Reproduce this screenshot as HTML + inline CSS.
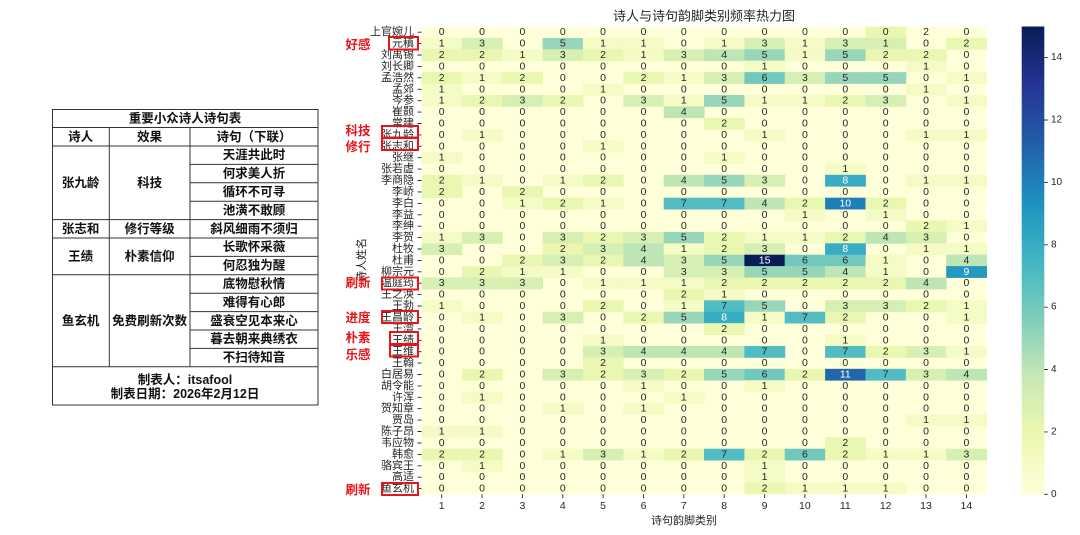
<!DOCTYPE html>
<html><head><meta charset="utf-8"><style>
html,body{margin:0;padding:0;background:#fff;width:1080px;height:535px;overflow:hidden}
svg{display:block}
.hm rect{width:40.8px;height:11.8px}
.a1{fill:#f5fbc4}.a2{fill:#eaf7b1}.a3{fill:#d6efb3}.a4{fill:#bde5b5}.a5{fill:#97d6b9}.a6{fill:#73c8bd}.a7{fill:#52bcc2}.a8{fill:#37acc3}.a9{fill:#2498c1}.a10{fill:#1f80b8}.a11{fill:#2165ab}.a15{fill:#081d58}
.hm text{font-family:"Liberation Sans Narrow","Liberation Sans",sans-serif;font-size:10.5px;fill:#262626;text-anchor:middle;dominant-baseline:central}
.hm text.w{fill:#fff}
.yl text{font-family:"Liberation Sans","Noto Sans CJK SC",sans-serif;font-size:11px;fill:#262626;text-anchor:end;dominant-baseline:central}
.xl text{font-family:"Liberation Sans",sans-serif;font-size:10.5px;fill:#262626;text-anchor:middle}
.cb text{font-family:"Liberation Sans",sans-serif;font-size:10px;fill:#262626;dominant-baseline:central}
.lab{font-family:"Liberation Sans","Noto Sans CJK SC",sans-serif;font-size:11px;fill:#262626;text-anchor:middle;dominant-baseline:central}
.red text{font-family:"Liberation Sans","Noto Sans CJK SC",sans-serif;font-size:12.5px;font-weight:700;fill:#e8141b;text-anchor:middle;dominant-baseline:central}
.red rect{fill:none;stroke:#e8141b;stroke-width:2}
.tb text{font-family:"Liberation Sans","Noto Sans CJK SC",sans-serif;font-size:12.5px;font-weight:700;fill:#111;text-anchor:middle;dominant-baseline:central}
.tb line,.tb rect{stroke:#333;stroke-width:1;fill:none}
</style></head><body>
<svg width="1080" height="535" viewBox="0 0 1080 535" xmlns="http://www.w3.org/2000/svg">
<defs>
<linearGradient id="cg" x1="0" y1="1" x2="0" y2="0">
<stop offset="0" stop-color="#ffffd9"/><stop offset="0.125" stop-color="#edf8b1"/><stop offset="0.25" stop-color="#c7e9b4"/><stop offset="0.375" stop-color="#7fcdbb"/><stop offset="0.5" stop-color="#41b6c4"/><stop offset="0.625" stop-color="#1d91c0"/><stop offset="0.75" stop-color="#225ea8"/><stop offset="0.875" stop-color="#253494"/><stop offset="1" stop-color="#081d58"/>
</linearGradient>
</defs>

<!-- table -->
<g class="tb">
<rect x="52.5" y="109.5" width="265.5" height="295.5"/>
<line x1="52.5" y1="127.5" x2="318" y2="127.5"/>
<line x1="52.5" y1="146" x2="318" y2="146"/>
<line x1="52.5" y1="219.6" x2="318" y2="219.6"/>
<line x1="52.5" y1="238" x2="318" y2="238"/>
<line x1="52.5" y1="274.8" x2="318" y2="274.8"/>
<line x1="52.5" y1="366.8" x2="318" y2="366.8"/>
<line x1="190" y1="164.4" x2="318" y2="164.4"/>
<line x1="190" y1="182.8" x2="318" y2="182.8"/>
<line x1="190" y1="201.2" x2="318" y2="201.2"/>
<line x1="190" y1="256.4" x2="318" y2="256.4"/>
<line x1="190" y1="293.2" x2="318" y2="293.2"/>
<line x1="190" y1="311.6" x2="318" y2="311.6"/>
<line x1="190" y1="330" x2="318" y2="330"/>
<line x1="190" y1="348.4" x2="318" y2="348.4"/>
<line x1="109.3" y1="127.5" x2="109.3" y2="366.8"/>
<line x1="190" y1="127.5" x2="190" y2="366.8"/>
<text x="185" y="118.5">重要小众诗人诗句表</text>
<text x="80.6" y="137">诗人</text><text x="149.6" y="137">效果</text><text x="254" y="137">诗句（下联）</text>
<text x="80.6" y="183">张九龄</text><text x="149.6" y="183">科技</text>
<text x="254" y="155.2">天涯共此时</text><text x="254" y="173.6">何求美人折</text><text x="254" y="192">循环不可寻</text><text x="254" y="210.4">池潢不敢顾</text>
<text x="80.6" y="228.8">张志和</text><text x="149.6" y="228.8">修行等级</text><text x="254" y="228.8">斜风细雨不须归</text>
<text x="80.6" y="256.4">王绩</text><text x="149.6" y="256.4">朴素信仰</text><text x="254" y="247.2">长歌怀采薇</text><text x="254" y="265.6">何忍独为醒</text>
<text x="80.6" y="320.8">鱼玄机</text><text x="149.6" y="320.8">免费刷新次数</text>
<text x="254" y="284">底物慰秋情</text><text x="254" y="302.4">难得有心郎</text><text x="254" y="320.8">盛衰空见本来心</text><text x="254" y="339.2">暮去朝来典绣衣</text><text x="254" y="357.6">不扫待知音</text>
<text x="185" y="380">制表人：itsafool</text>
<text x="185" y="394">制表日期：2026年2月12日</text>
</g>

<!-- title -->
<text x="704" y="16" class="lab" style="font-size:13px">诗人与诗句韵脚类别频率热力图</text>

<!-- heatmap background -->
<rect x="421.5" y="26.5" width="565.1" height="467.8" fill="#ffffd9"/>

<g class="hm">
<g transform="translate(0,26.5)"><rect x="865.5" class="a2"/><text y="5.7" x="441.7 482.0 522.4 562.8 603.1 643.5 683.8 724.2 764.6 804.9 845.3 885.7 926.0 966.4">00000000000020</text></g>
<g transform="translate(0,37.9)"><rect x="421.5" class="a1"/><rect x="461.9" class="a3"/><rect x="542.6" class="a5"/><rect x="582.9" class="a1"/><rect x="623.3" class="a1"/><rect x="704.0" class="a1"/><rect x="744.4" class="a3"/><rect x="784.7" class="a1"/><rect x="825.1" class="a3"/><rect x="865.5" class="a3"/><rect x="946.2" class="a2"/><text y="5.7" x="441.7 482.0 522.4 562.8 603.1 643.5 683.8 724.2 764.6 804.9 845.3 885.7 926.0 966.4">13051101313102</text></g>
<g transform="translate(0,49.3)"><rect x="421.5" class="a2"/><rect x="461.9" class="a2"/><rect x="502.2" class="a1"/><rect x="542.6" class="a3"/><rect x="582.9" class="a2"/><rect x="623.3" class="a1"/><rect x="663.7" class="a3"/><rect x="704.0" class="a4"/><rect x="744.4" class="a5"/><rect x="784.7" class="a1"/><rect x="825.1" class="a5"/><rect x="865.5" class="a2"/><rect x="905.8" class="a2"/><text y="5.7" x="441.7 482.0 522.4 562.8 603.1 643.5 683.8 724.2 764.6 804.9 845.3 885.7 926.0 966.4">22132134515220</text></g>
<g transform="translate(0,60.7)"><rect x="744.4" class="a1"/><rect x="905.8" class="a1"/><text y="5.7" x="441.7 482.0 522.4 562.8 603.1 643.5 683.8 724.2 764.6 804.9 845.3 885.7 926.0 966.4">00000000100010</text></g>
<g transform="translate(0,72.1)"><rect x="421.5" class="a2"/><rect x="461.9" class="a1"/><rect x="502.2" class="a2"/><rect x="623.3" class="a2"/><rect x="663.7" class="a1"/><rect x="704.0" class="a3"/><rect x="744.4" class="a6"/><rect x="784.7" class="a3"/><rect x="825.1" class="a5"/><rect x="865.5" class="a5"/><rect x="946.2" class="a1"/><text y="5.7" x="441.7 482.0 522.4 562.8 603.1 643.5 683.8 724.2 764.6 804.9 845.3 885.7 926.0 966.4">21200213635501</text></g>
<g transform="translate(0,83.6)"><rect x="421.5" class="a1"/><rect x="582.9" class="a1"/><rect x="905.8" class="a1"/><text y="5.7" x="441.7 482.0 522.4 562.8 603.1 643.5 683.8 724.2 764.6 804.9 845.3 885.7 926.0 966.4">10001000000010</text></g>
<g transform="translate(0,95.0)"><rect x="421.5" class="a1"/><rect x="461.9" class="a2"/><rect x="502.2" class="a3"/><rect x="542.6" class="a2"/><rect x="623.3" class="a3"/><rect x="663.7" class="a1"/><rect x="704.0" class="a5"/><rect x="744.4" class="a1"/><rect x="784.7" class="a1"/><rect x="825.1" class="a2"/><rect x="865.5" class="a3"/><rect x="946.2" class="a1"/><text y="5.7" x="441.7 482.0 522.4 562.8 603.1 643.5 683.8 724.2 764.6 804.9 845.3 885.7 926.0 966.4">12320315112301</text></g>
<g transform="translate(0,106.4)"><rect x="663.7" class="a4"/><text y="5.7" x="441.7 482.0 522.4 562.8 603.1 643.5 683.8 724.2 764.6 804.9 845.3 885.7 926.0 966.4">00000040000000</text></g>
<g transform="translate(0,117.8)"><rect x="704.0" class="a2"/><text y="5.7" x="441.7 482.0 522.4 562.8 603.1 643.5 683.8 724.2 764.6 804.9 845.3 885.7 926.0 966.4">00000002000000</text></g>
<g transform="translate(0,129.2)"><rect x="461.9" class="a1"/><rect x="744.4" class="a1"/><rect x="905.8" class="a1"/><rect x="946.2" class="a1"/><text y="5.7" x="441.7 482.0 522.4 562.8 603.1 643.5 683.8 724.2 764.6 804.9 845.3 885.7 926.0 966.4">01000000100011</text></g>
<g transform="translate(0,140.6)"><rect x="582.9" class="a1"/><text y="5.7" x="441.7 482.0 522.4 562.8 603.1 643.5 683.8 724.2 764.6 804.9 845.3 885.7 926.0 966.4">00001000000000</text></g>
<g transform="translate(0,152.0)"><rect x="421.5" class="a1"/><rect x="704.0" class="a1"/><text y="5.7" x="441.7 482.0 522.4 562.8 603.1 643.5 683.8 724.2 764.6 804.9 845.3 885.7 926.0 966.4">10000001000000</text></g>
<g transform="translate(0,163.4)"><rect x="825.1" class="a1"/><text y="5.7" x="441.7 482.0 522.4 562.8 603.1 643.5 683.8 724.2 764.6 804.9 845.3 885.7 926.0 966.4">00000000001000</text></g>
<g transform="translate(0,174.8)"><rect x="421.5" class="a2"/><rect x="461.9" class="a1"/><rect x="542.6" class="a1"/><rect x="582.9" class="a2"/><rect x="663.7" class="a4"/><rect x="704.0" class="a5"/><rect x="744.4" class="a3"/><rect x="825.1" class="a8"/><rect x="905.8" class="a1"/><rect x="946.2" class="a1"/><text y="5.7" x="441.7 482.0 522.4 562.8 603.1 643.5 683.8 724.2 764.6 804.9 885.7 926.0 966.4">2101204530011</text><text class="w" y="5.7" x="845.3">8</text></g>
<g transform="translate(0,186.2)"><rect x="421.5" class="a2"/><rect x="502.2" class="a2"/><text y="5.7" x="441.7 482.0 522.4 562.8 603.1 643.5 683.8 724.2 764.6 804.9 845.3 885.7 926.0 966.4">20200000000000</text></g>
<g transform="translate(0,197.7)"><rect x="502.2" class="a1"/><rect x="542.6" class="a2"/><rect x="582.9" class="a1"/><rect x="663.7" class="a7"/><rect x="704.0" class="a7"/><rect x="744.4" class="a4"/><rect x="784.7" class="a2"/><rect x="825.1" class="a10"/><rect x="865.5" class="a2"/><text y="5.7" x="441.7 482.0 522.4 562.8 603.1 643.5 683.8 724.2 764.6 804.9 885.7 926.0 966.4">0012107742200</text><text class="w" y="5.7" x="845.3">10</text></g>
<g transform="translate(0,209.1)"><rect x="784.7" class="a1"/><rect x="865.5" class="a1"/><text y="5.7" x="441.7 482.0 522.4 562.8 603.1 643.5 683.8 724.2 764.6 804.9 845.3 885.7 926.0 966.4">00000000010100</text></g>
<g transform="translate(0,220.5)"><rect x="905.8" class="a2"/><rect x="946.2" class="a1"/><text y="5.7" x="441.7 482.0 522.4 562.8 603.1 643.5 683.8 724.2 764.6 804.9 845.3 885.7 926.0 966.4">00000000000021</text></g>
<g transform="translate(0,231.9)"><rect x="421.5" class="a1"/><rect x="461.9" class="a3"/><rect x="542.6" class="a3"/><rect x="582.9" class="a2"/><rect x="623.3" class="a3"/><rect x="663.7" class="a5"/><rect x="704.0" class="a2"/><rect x="744.4" class="a1"/><rect x="784.7" class="a1"/><rect x="825.1" class="a2"/><rect x="865.5" class="a4"/><rect x="905.8" class="a3"/><text y="5.7" x="441.7 482.0 522.4 562.8 603.1 643.5 683.8 724.2 764.6 804.9 845.3 885.7 926.0 966.4">13032352112430</text></g>
<g transform="translate(0,243.3)"><rect x="421.5" class="a3"/><rect x="542.6" class="a2"/><rect x="582.9" class="a3"/><rect x="623.3" class="a4"/><rect x="663.7" class="a1"/><rect x="704.0" class="a2"/><rect x="744.4" class="a3"/><rect x="825.1" class="a8"/><rect x="905.8" class="a1"/><rect x="946.2" class="a1"/><text y="5.7" x="441.7 482.0 522.4 562.8 603.1 643.5 683.8 724.2 764.6 804.9 885.7 926.0 966.4">3002341230011</text><text class="w" y="5.7" x="845.3">8</text></g>
<g transform="translate(0,254.7)"><rect x="502.2" class="a2"/><rect x="542.6" class="a3"/><rect x="582.9" class="a2"/><rect x="623.3" class="a4"/><rect x="663.7" class="a3"/><rect x="704.0" class="a5"/><rect x="744.4" class="a15"/><rect x="784.7" class="a6"/><rect x="825.1" class="a6"/><rect x="865.5" class="a1"/><rect x="946.2" class="a4"/><text y="5.7" x="441.7 482.0 522.4 562.8 603.1 643.5 683.8 724.2 804.9 845.3 885.7 926.0 966.4">0023243566104</text><text class="w" y="5.7" x="764.6">15</text></g>
<g transform="translate(0,266.1)"><rect x="461.9" class="a2"/><rect x="502.2" class="a1"/><rect x="542.6" class="a1"/><rect x="663.7" class="a3"/><rect x="704.0" class="a3"/><rect x="744.4" class="a5"/><rect x="784.7" class="a5"/><rect x="825.1" class="a4"/><rect x="865.5" class="a1"/><rect x="946.2" class="a9"/><text y="5.7" x="441.7 482.0 522.4 562.8 603.1 643.5 683.8 724.2 764.6 804.9 845.3 885.7 926.0">0211003355410</text><text class="w" y="5.7" x="966.4">9</text></g>
<g transform="translate(0,277.5)"><rect x="421.5" class="a3"/><rect x="461.9" class="a3"/><rect x="502.2" class="a3"/><rect x="582.9" class="a1"/><rect x="623.3" class="a1"/><rect x="663.7" class="a1"/><rect x="704.0" class="a2"/><rect x="744.4" class="a2"/><rect x="784.7" class="a2"/><rect x="825.1" class="a2"/><rect x="865.5" class="a2"/><rect x="905.8" class="a4"/><text y="5.7" x="441.7 482.0 522.4 562.8 603.1 643.5 683.8 724.2 764.6 804.9 845.3 885.7 926.0 966.4">33301112222240</text></g>
<g transform="translate(0,288.9)"><rect x="663.7" class="a2"/><rect x="704.0" class="a1"/><text y="5.7" x="441.7 482.0 522.4 562.8 603.1 643.5 683.8 724.2 764.6 804.9 845.3 885.7 926.0 966.4">00000021000000</text></g>
<g transform="translate(0,300.3)"><rect x="421.5" class="a1"/><rect x="582.9" class="a2"/><rect x="663.7" class="a1"/><rect x="704.0" class="a7"/><rect x="744.4" class="a5"/><rect x="825.1" class="a3"/><rect x="865.5" class="a3"/><rect x="905.8" class="a2"/><rect x="946.2" class="a1"/><text y="5.7" x="441.7 482.0 522.4 562.8 603.1 643.5 683.8 724.2 764.6 804.9 845.3 885.7 926.0 966.4">10002017503321</text></g>
<g transform="translate(0,311.7)"><rect x="461.9" class="a1"/><rect x="542.6" class="a3"/><rect x="623.3" class="a2"/><rect x="663.7" class="a5"/><rect x="704.0" class="a8"/><rect x="744.4" class="a1"/><rect x="784.7" class="a7"/><rect x="825.1" class="a2"/><rect x="946.2" class="a1"/><text y="5.7" x="441.7 482.0 522.4 562.8 603.1 643.5 683.8 764.6 804.9 845.3 885.7 926.0 966.4">0103025172001</text><text class="w" y="5.7" x="724.2">8</text></g>
<g transform="translate(0,323.2)"><rect x="704.0" class="a2"/><text y="5.7" x="441.7 482.0 522.4 562.8 603.1 643.5 683.8 724.2 764.6 804.9 845.3 885.7 926.0 966.4">00000002000000</text></g>
<g transform="translate(0,334.6)"><rect x="582.9" class="a1"/><rect x="825.1" class="a1"/><text y="5.7" x="441.7 482.0 522.4 562.8 603.1 643.5 683.8 724.2 764.6 804.9 845.3 885.7 926.0 966.4">00001000001000</text></g>
<g transform="translate(0,346.0)"><rect x="582.9" class="a3"/><rect x="623.3" class="a4"/><rect x="663.7" class="a4"/><rect x="704.0" class="a4"/><rect x="744.4" class="a7"/><rect x="825.1" class="a7"/><rect x="865.5" class="a2"/><rect x="905.8" class="a3"/><rect x="946.2" class="a1"/><text y="5.7" x="441.7 482.0 522.4 562.8 603.1 643.5 683.8 724.2 764.6 804.9 845.3 885.7 926.0 966.4">00003444707231</text></g>
<g transform="translate(0,357.4)"><rect x="582.9" class="a2"/><text y="5.7" x="441.7 482.0 522.4 562.8 603.1 643.5 683.8 724.2 764.6 804.9 845.3 885.7 926.0 966.4">00002000000000</text></g>
<g transform="translate(0,368.8)"><rect x="461.9" class="a2"/><rect x="542.6" class="a3"/><rect x="582.9" class="a2"/><rect x="623.3" class="a3"/><rect x="663.7" class="a2"/><rect x="704.0" class="a5"/><rect x="744.4" class="a6"/><rect x="784.7" class="a2"/><rect x="825.1" class="a11"/><rect x="865.5" class="a7"/><rect x="905.8" class="a3"/><rect x="946.2" class="a4"/><text y="5.7" x="441.7 482.0 522.4 562.8 603.1 643.5 683.8 724.2 764.6 804.9 885.7 926.0 966.4">0203232562734</text><text class="w" y="5.7" x="845.3">11</text></g>
<g transform="translate(0,380.2)"><rect x="623.3" class="a1"/><rect x="744.4" class="a1"/><text y="5.7" x="441.7 482.0 522.4 562.8 603.1 643.5 683.8 724.2 764.6 804.9 845.3 885.7 926.0 966.4">00000100100000</text></g>
<g transform="translate(0,391.6)"><rect x="461.9" class="a1"/><rect x="663.7" class="a1"/><text y="5.7" x="441.7 482.0 522.4 562.8 603.1 643.5 683.8 724.2 764.6 804.9 845.3 885.7 926.0 966.4">01000010000000</text></g>
<g transform="translate(0,403.0)"><rect x="542.6" class="a1"/><rect x="623.3" class="a1"/><text y="5.7" x="441.7 482.0 522.4 562.8 603.1 643.5 683.8 724.2 764.6 804.9 845.3 885.7 926.0 966.4">00010100000000</text></g>
<g transform="translate(0,414.4)"><rect x="905.8" class="a1"/><rect x="946.2" class="a1"/><text y="5.7" x="441.7 482.0 522.4 562.8 603.1 643.5 683.8 724.2 764.6 804.9 845.3 885.7 926.0 966.4">00000000000011</text></g>
<g transform="translate(0,425.8)"><rect x="421.5" class="a1"/><rect x="461.9" class="a1"/><text y="5.7" x="441.7 482.0 522.4 562.8 603.1 643.5 683.8 724.2 764.6 804.9 845.3 885.7 926.0 966.4">11000000000000</text></g>
<g transform="translate(0,437.3)"><rect x="825.1" class="a2"/><text y="5.7" x="441.7 482.0 522.4 562.8 603.1 643.5 683.8 724.2 764.6 804.9 845.3 885.7 926.0 966.4">00000000002000</text></g>
<g transform="translate(0,448.7)"><rect x="421.5" class="a2"/><rect x="461.9" class="a2"/><rect x="542.6" class="a1"/><rect x="582.9" class="a3"/><rect x="623.3" class="a1"/><rect x="663.7" class="a2"/><rect x="704.0" class="a7"/><rect x="744.4" class="a2"/><rect x="784.7" class="a6"/><rect x="825.1" class="a2"/><rect x="865.5" class="a1"/><rect x="905.8" class="a1"/><rect x="946.2" class="a3"/><text y="5.7" x="441.7 482.0 522.4 562.8 603.1 643.5 683.8 724.2 764.6 804.9 845.3 885.7 926.0 966.4">22013127262113</text></g>
<g transform="translate(0,460.1)"><rect x="461.9" class="a1"/><rect x="744.4" class="a1"/><text y="5.7" x="441.7 482.0 522.4 562.8 603.1 643.5 683.8 724.2 764.6 804.9 845.3 885.7 926.0 966.4">01000000100000</text></g>
<g transform="translate(0,471.5)"><rect x="744.4" class="a1"/><text y="5.7" x="441.7 482.0 522.4 562.8 603.1 643.5 683.8 724.2 764.6 804.9 845.3 885.7 926.0 966.4">00000000100000</text></g>
<g transform="translate(0,482.9)"><rect x="744.4" class="a2" style="height:11.4px"/><rect x="784.7" class="a1" style="height:11.4px"/><rect x="825.1" class="a1" style="height:11.4px"/><rect x="865.5" class="a1" style="height:11.4px"/><text y="5.7" x="441.7 482.0 522.4 562.8 603.1 643.5 683.8 724.2 764.6 804.9 845.3 885.7 926.0 966.4">00000000211100</text></g>
</g>

<!-- y tick marks & labels -->
<path d="M417.5 32.2h4M417.5 43.6h4M417.5 55h4M417.5 66.4h4M417.5 77.8h4M417.5 89.3h4M417.5 100.7h4M417.5 112.1h4M417.5 123.5h4M417.5 134.9h4M417.5 146.3h4M417.5 157.7h4M417.5 169.1h4M417.5 180.5h4M417.5 191.9h4M417.5 203.4h4M417.5 214.8h4M417.5 226.2h4M417.5 237.6h4M417.5 249h4M417.5 260.4h4M417.5 271.8h4M417.5 283.2h4M417.5 294.6h4M417.5 306h4M417.5 317.4h4M417.5 328.9h4M417.5 340.3h4M417.5 351.7h4M417.5 363.1h4M417.5 374.5h4M417.5 385.9h4M417.5 397.3h4M417.5 408.7h4M417.5 420.1h4M417.5 431.5h4M417.5 443h4M417.5 454.4h4M417.5 465.8h4M417.5 477.2h4M417.5 488.6h4" stroke="#262626" stroke-width="0.9"/>
<g class="yl">
<text x="414" y="32.2">上官婉儿</text><text x="414" y="43.6">元稹</text><text x="414" y="55">刘禹锡</text><text x="414" y="66.4">刘长卿</text><text x="414" y="77.8">孟浩然</text><text x="414" y="89.3">孟郊</text><text x="414" y="100.7">岑参</text><text x="414" y="112.1">崔颢</text><text x="414" y="123.5">常建</text><text x="414" y="134.9">张九龄</text><text x="414" y="146.3">张志和</text><text x="414" y="157.7">张继</text><text x="414" y="169.1">张若虚</text><text x="414" y="180.5">李商隐</text><text x="414" y="191.9">李峤</text><text x="414" y="203.4">李白</text><text x="414" y="214.8">李益</text><text x="414" y="226.2">李绅</text><text x="414" y="237.6">李贺</text><text x="414" y="249">杜牧</text><text x="414" y="260.4">杜甫</text><text x="414" y="271.8">柳宗元</text><text x="414" y="283.2">温庭筠</text><text x="414" y="294.6">王之涣</text><text x="414" y="306">王勃</text><text x="414" y="317.4">王昌龄</text><text x="414" y="328.9">王湾</text><text x="414" y="340.3">王绩</text><text x="414" y="351.7">王维</text><text x="414" y="363.1">王翰</text><text x="414" y="374.5">白居易</text><text x="414" y="385.9">胡令能</text><text x="414" y="397.3">许浑</text><text x="414" y="408.7">贺知章</text><text x="414" y="420.1">贾岛</text><text x="414" y="431.5">陈子昂</text><text x="414" y="443">韦应物</text><text x="414" y="454.4">韩愈</text><text x="414" y="465.8">骆宾王</text><text x="414" y="477.2">高适</text><text x="414" y="488.6">鱼玄机</text>
</g>
<text class="lab" transform="translate(362,260) rotate(-90)" x="0" y="0">诗人姓名</text>

<!-- x ticks -->
<path d="M441.7 494.3v3.8M482 494.3v3.8M522.4 494.3v3.8M562.8 494.3v3.8M603.1 494.3v3.8M643.5 494.3v3.8M683.8 494.3v3.8M724.2 494.3v3.8M764.6 494.3v3.8M804.9 494.3v3.8M845.3 494.3v3.8M885.7 494.3v3.8M926 494.3v3.8M966.4 494.3v3.8" stroke="#262626" stroke-width="0.9"/>
<g class="xl">
<text x="441.7" y="509">1</text><text x="482" y="509">2</text><text x="522.4" y="509">3</text><text x="562.8" y="509">4</text><text x="603.1" y="509">5</text><text x="643.5" y="509">6</text><text x="683.8" y="509">7</text><text x="724.2" y="509">8</text><text x="764.6" y="509">9</text><text x="804.9" y="509">10</text><text x="845.3" y="509">11</text><text x="885.7" y="509">12</text><text x="926" y="509">13</text><text x="966.4" y="509">14</text>
</g>
<text class="lab" x="684" y="521">诗句韵脚类别</text>

<!-- colorbar -->
<rect x="1021.7" y="26.5" width="22.6" height="467.8" fill="url(#cg)"/>
<path d="M1044.3 494.3h3.5M1044.3 431.9h3.5M1044.3 369.5h3.5M1044.3 307.2h3.5M1044.3 244.8h3.5M1044.3 182.4h3.5M1044.3 120h3.5M1044.3 57.6h3.5" stroke="#262626" stroke-width="0.9"/>
<g class="cb">
<text x="1051" y="494.3">0</text><text x="1051" y="431.9">2</text><text x="1051" y="369.5">4</text><text x="1051" y="307.2">6</text><text x="1051" y="244.8">8</text><text x="1051" y="182.4">10</text><text x="1051" y="120">12</text><text x="1051" y="57.6">14</text>
</g>

<!-- red annotations -->
<g class="red">
<rect x="389" y="37" width="29" height="12.5"/>
<rect x="382" y="126" width="36" height="11.5"/>
<rect x="382" y="138" width="36" height="12"/>
<rect x="382" y="277.5" width="36" height="12"/>
<rect x="382" y="311" width="36" height="12"/>
<rect x="390" y="332" width="28" height="12"/>
<rect x="390" y="345" width="28" height="11.5"/>
<rect x="382" y="483" width="36" height="12"/>
<text x="358" y="45">好感</text>
<text x="358" y="131">科技</text>
<text x="358" y="147">修行</text>
<text x="358" y="283">刷新</text>
<text x="358" y="318">进度</text>
<text x="358" y="338">朴素</text>
<text x="358" y="355">乐感</text>
<text x="358" y="490">刷新</text>
</g>
</svg>
</body></html>
